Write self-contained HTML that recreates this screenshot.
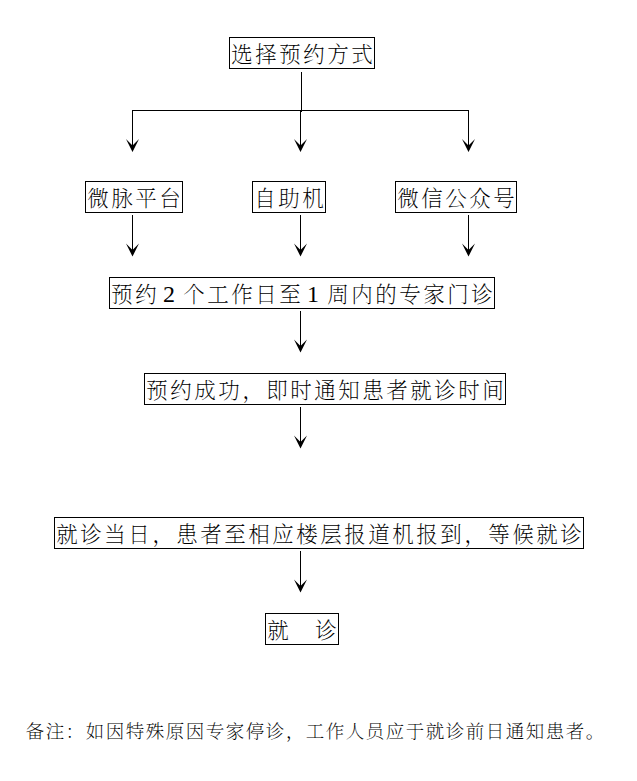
<!DOCTYPE html>
<html lang="zh-CN">
<head>
<meta charset="utf-8">
<title>专家门诊预约流程</title>
<style>
  html, body { margin: 0; padding: 0; background: #fff; }
  body {
    position: relative;
    width: 637px;
    height: 781px;
    overflow: hidden;
    font-family: "Liberation Serif", "Noto Serif CJK SC", serif;
    color: #000;
  }
  .b {
    position: absolute;
    box-sizing: content-box;
    height: 30px;
    line-height: 34px;
    border: 1px solid #000;
    padding-left: 1.25px;
    font-size: 21.5px;
    font-weight: 200;
    letter-spacing: 2.5px;
    white-space: nowrap;
    text-align: left;
    overflow: visible;
  }
  .b .n {
    display: inline-block;
    width: 12px;
    margin: 0 8.25px 0 3.75px;
    font-size: 24px;
    letter-spacing: 0;
    text-align: center;
    line-height: 1;
  }
  .note {
    position: absolute;
    left: 25.75px;
    top: 717px;
    height: 30px;
    line-height: 30px;
    font-size: 18.5px;
    font-weight: 200;
    letter-spacing: 1.5px;
    white-space: nowrap;
  }
  svg { position: absolute; left: 0; top: 0; }
</style>
</head>
<body>

<div class="b" style="left:229px; top:37px; width:142.75px;">选择预约方式</div>

<div class="b" style="left:85px;  top:181px; width:94.75px;">微脉平台</div>
<div class="b" style="left:252px; top:181px; width:70.75px;">自助机</div>
<div class="b" style="left:395px; top:181px; width:118.75px;">微信公众号</div>

<div class="b" style="left:109px; top:277px; width:382.75px;">预约<span class="n">2</span>个工作日至<span class="n">1</span>周内的专家门诊</div>

<div class="b" style="left:144px; top:373px; width:358.75px;">预约成功，即时通知患者就诊时间</div>

<div class="b" style="left:54px;  top:517px; width:526.75px;">就诊当日，患者至相应楼层报道机报到，等候就诊</div>

<div class="b" style="left:265px; top:613px; width:70.75px;">就　诊</div>

<div class="note">备注：如因特殊原因专家停诊，工作人员应于就诊前日通知患者。</div>

<svg width="637" height="781" viewBox="0 0 637 781">
  <g fill="#000" shape-rendering="crispEdges">
    <!-- stem from top box -->
    <rect x="301" y="72" width="1" height="40"/>
    <!-- horizontal distributor -->
    <rect x="132" y="110" width="337" height="1"/>
    <!-- three drops from distributor -->
    <rect x="132" y="110" width="1" height="37"/>
    <rect x="300" y="110" width="1" height="37"/>
    <rect x="468" y="110" width="1" height="37"/>
    <!-- three drops from row 2 boxes -->
    <rect x="132" y="215" width="1" height="36"/>
    <rect x="300" y="215" width="1" height="36"/>
    <rect x="468" y="215" width="1" height="36"/>
    <!-- box4 -> box5 -->
    <rect x="300" y="311" width="1" height="36"/>
    <!-- box5 -> box6 -->
    <rect x="300" y="407" width="1" height="36"/>
    <!-- box6 -> box7 -->
    <rect x="300" y="551" width="1" height="36"/>
  </g>
  <g fill="#000">
    <!-- stealth arrowheads: tip, right wing, notch, left wing -->
    <polygon points="132.5,152 139,139 132.5,145.5 126,139"/>
    <polygon points="300.5,152 307,139 300.5,145.5 294,139"/>
    <polygon points="468.5,152 475,139 468.5,145.5 462,139"/>

    <polygon points="132.5,256.5 139,243.5 132.5,250 126,243.5"/>
    <polygon points="300.5,256.5 307,243.5 300.5,250 294,243.5"/>
    <polygon points="468.5,256.5 475,243.5 468.5,250 462,243.5"/>

    <polygon points="300.5,352.5 307,339.5 300.5,346 294,339.5"/>
    <polygon points="300.5,448.5 307,435.5 300.5,442 294,435.5"/>
    <polygon points="300.5,592.5 307,579.5 300.5,586 294,579.5"/>
  </g>
</svg>

</body>
</html>
